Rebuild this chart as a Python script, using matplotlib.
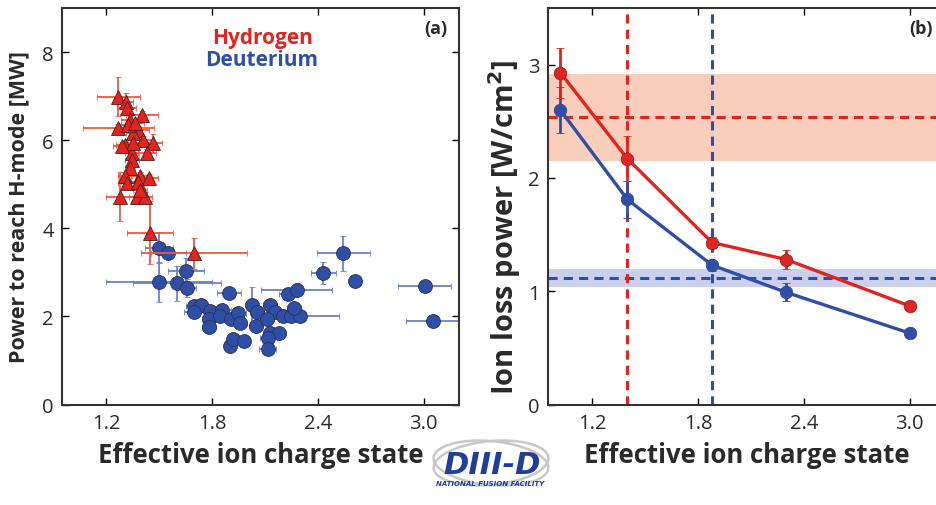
import numpy as np
import matplotlib
matplotlib.use("Agg")
from matplotlib import pyplot as plt
from matplotlib.patches import Ellipse

plt.rcParams["font.family"] = ["Open Sans", "DejaVu Sans"]

# ---- panel (a): power to reach H-mode ----
h_zeff = [1.27, 1.31, 1.317, 1.405, 1.27, 1.336, 1.383, 1.354, 1.307, 1.41,
          1.468, 1.345, 1.43, 1.345, 1.336, 1.392, 1.445, 1.307, 1.317, 1.383,
          1.279, 1.377, 1.42, 1.392, 1.354, 1.29, 1.326, 1.364, 1.449, 1.70]
h_power = [6.99, 6.87, 6.72, 6.57, 6.27, 6.46, 6.23, 6.16, 5.89, 6.00,
           5.93, 5.71, 5.71, 5.55, 5.37, 5.18, 5.14, 5.18, 5.03, 5.06,
           4.72, 4.72, 4.72, 4.88, 5.93, 5.86, 6.35, 6.39, 3.90, 3.43]
h_xerr = [0.12, 0.04, 0.05, 0.09, 0.20, 0.05, 0.06, 0.04, 0.05, 0.06,
          0.05, 0.04, 0.05, 0.04, 0.03, 0.05, 0.05, 0.04, 0.05, 0.04,
          0.08, 0.05, 0.04, 0.04, 0.04, 0.05, 0.04, 0.05, 0.13, 0.30]
h_yerr = [0.44, 0.20, 0.10, 0.10, 0.10, 0.10, 0.10, 0.15, 0.10, 0.10,
          0.20, 0.10, 0.10, 0.10, 0.10, 0.10, 0.10, 0.10, 0.10, 0.10,
          0.55, 0.10, 0.10, 0.15, 0.10, 0.10, 0.10, 0.10, 0.72, 0.36]

d_zeff = [1.50, 1.553, 1.652, 1.50, 1.60, 1.66, 1.897, 1.70, 1.74, 1.70,
          1.79, 1.785, 1.785, 1.856, 1.846, 1.91, 1.95, 1.96, 1.90, 1.918,
          1.98, 2.026, 2.054, 2.05, 2.13, 2.158, 2.11, 2.13, 2.177, 2.12,
          2.115, 2.205, 2.25, 2.30, 2.266, 2.23, 2.28, 2.43, 2.545, 2.61,
          3.005, 3.05]
d_power = [3.56, 3.43, 3.03, 2.78, 2.75, 2.65, 2.54, 2.24, 2.25, 2.09,
           2.12, 1.93, 1.75, 2.14, 2.01, 1.95, 2.07, 1.86, 1.33, 1.48,
           1.44, 2.27, 2.09, 1.78, 2.27, 2.10, 1.95, 1.63, 1.63, 1.52,
           1.26, 2.01, 2.01, 2.01, 2.20, 2.50, 2.61, 2.99, 3.43, 2.80,
           2.69, 1.90]
d_xerr = [0.08, 0.10, 0.10, 0.30, 0.25, 0.05, 0.07, 0.05, 0.04, 0.06,
          0.04, 0.04, 0.04, 0.05, 0.04, 0.04, 0.04, 0.04, 0.03, 0.03,
          0.03, 0.04, 0.04, 0.04, 0.04, 0.04, 0.04, 0.04, 0.04, 0.05,
          0.05, 0.04, 0.04, 0.22, 0.04, 0.05, 0.20, 0.07, 0.15, 0.00,
          0.15, 0.15]
d_yerr = [0.35, 0.10, 0.30, 0.45, 0.40, 0.20, 0.05, 0.10, 0.10, 0.10,
          0.10, 0.10, 0.10, 0.10, 0.10, 0.10, 0.10, 0.10, 0.05, 0.05,
          0.05, 0.40, 0.10, 0.10, 0.10, 0.10, 0.10, 0.10, 0.10, 0.10,
          0.05, 0.10, 0.10, 0.10, 0.10, 0.10, 0.15, 0.25, 0.40, 0.00,
          0.05, 0.00]

# ---- panel (b): ion loss power ----
zeff_b = [1.02, 1.40, 1.88, 2.30, 3.00]
h_loss = [2.93, 2.17, 1.43, 1.28, 0.87]
h_loss_err = [0.22, 0.20, 0.05, 0.08, 0.03]
d_loss = [2.60, 1.81, 1.23, 0.99, 0.63]
d_loss_err = [0.20, 0.16, 0.05, 0.08, 0.04]
h_thresh, h_band = 2.54, (2.15, 2.92)
d_thresh, d_band = 1.12, (1.04, 1.20)
h_zeff_cross, d_zeff_cross = 1.40, 1.88

RED = "#e3231f"
BLUE = "#2f4ea6"
RED_ERR = "#ec5a3c"
BLUE_ERR = "#6d80c6"
TXT = "#2a2a2a"

fig = plt.figure(figsize=(9.37, 5.06), dpi=100)
ax1 = fig.add_axes([0.0662, 0.1986, 0.4237, 0.7836])
ax2 = fig.add_axes([0.5848, 0.1986, 0.4237, 0.7836])

ax1.errorbar(d_zeff, d_power, xerr=d_xerr, yerr=d_yerr, fmt="o", ms=10,
             mfc=BLUE, mec="#2a3050", mew=0.6, ecolor=BLUE_ERR, elinewidth=1.3,
             capsize=2.5, capthick=1.1, zorder=2)
ax1.errorbar(h_zeff, h_power, xerr=h_xerr, yerr=h_yerr, fmt="^", ms=10,
             mfc=RED, mec="#4a2020", mew=0.6, ecolor=RED_ERR, elinewidth=1.3,
             capsize=2.5, capthick=1.1, zorder=3)
ax1.set_xlim(0.95, 3.2)
ax1.set_ylim(0, 9)
ax1.set_xticks([1.2, 1.8, 2.4, 3.0])
ax1.set_yticks([0, 2, 4, 6, 8])
ax1.set_xlabel("Effective ion charge state", fontsize=18.5, fontweight="bold",
               color=TXT, labelpad=6)
ax1.set_ylabel("Power to reach H-mode [MW]", fontsize=15.5, fontweight="bold",
               color=TXT, labelpad=9)
ax1.text(0.504, 0.925, "Hydrogen", color=RED, fontsize=15, fontweight="bold",
         ha="center", va="center", transform=ax1.transAxes)
ax1.text(0.504, 0.87, "Deuterium", color=BLUE, fontsize=15, fontweight="bold",
         ha="center", va="center", transform=ax1.transAxes)
ax1.text(0.97, 0.95, "(a)", fontsize=13, fontweight="bold", ha="right",
         va="center", color=TXT, transform=ax1.transAxes)

ax2.axhspan(*h_band, color="#f9cfbc", lw=0, zorder=0)
ax2.axhspan(*d_band, color="#cbd0ee", lw=0, zorder=0)
ax2.axhline(h_thresh, color=RED, ls=(0, (3, 2)), lw=2.2, zorder=1)
ax2.axhline(d_thresh, color=BLUE, ls=(0, (3, 2)), lw=2.2, zorder=1)
ax2.axvline(h_zeff_cross, color=RED, ls=(0, (3, 2)), lw=2.2, zorder=1)
ax2.axvline(d_zeff_cross, color=BLUE, ls=(0, (3, 2)), lw=2.2, zorder=1)
ax2.errorbar(zeff_b, d_loss, yerr=d_loss_err, fmt="-o", color=BLUE, lw=2.4,
             ms=9, mec="#3a4a8a", mew=0.6, elinewidth=2, capsize=3, zorder=3)
ax2.errorbar(zeff_b, h_loss, yerr=h_loss_err, fmt="-o", color=RED, lw=2.4,
             ms=9, mec="#8a2a2a", mew=0.6, elinewidth=2, capsize=3, zorder=3)
ax2.set_xlim(0.95, 3.2)
ax2.set_ylim(0, 3.5)
ax2.set_xticks([1.2, 1.8, 2.4, 3.0])
ax2.set_yticks([0, 1, 2, 3])
ax2.set_xlabel("Effective ion charge state", fontsize=18.5, fontweight="bold",
               color=TXT, labelpad=6)
ax2.set_ylabel("Ion loss power [W/cm$^\\mathbf{2}$]", fontsize=21,
               fontweight="bold", color=TXT)
ax2.yaxis.set_label_coords(-0.062, 0.45)
ax2.text(0.97, 0.95, "(b)", fontsize=13, fontweight="bold", ha="right",
         va="center", color=TXT, transform=ax2.transAxes)

for ax in (ax1, ax2):
    ax.tick_params(direction="in", top=True, right=True, labelsize=14.5,
                   labelcolor=TXT, length=5, width=1, pad=6)
    for s in ax.spines.values():
        s.set_linewidth(1.5)
        s.set_color("#333333")

# DIII-D logo
for ang in (16, -16):
    fig.patches.append(Ellipse((0.524, 0.083), 0.125, 0.085, angle=ang,
                               transform=fig.transFigure, fill=False,
                               ec="#c8c8c8", lw=1.8))
fig.text(0.525, 0.080, "DIII-D", color="#1f3f9a", fontsize=22,
         fontweight="heavy", style="italic", ha="center", va="center",
         family="DejaVu Sans")
fig.text(0.523, 0.044, "NATIONAL FUSION FACILITY", color="#1f3f9a",
         fontsize=5, fontweight="bold", style="italic", ha="center",
         va="center", family="DejaVu Sans")

fig.savefig("out.png", dpi=100)
